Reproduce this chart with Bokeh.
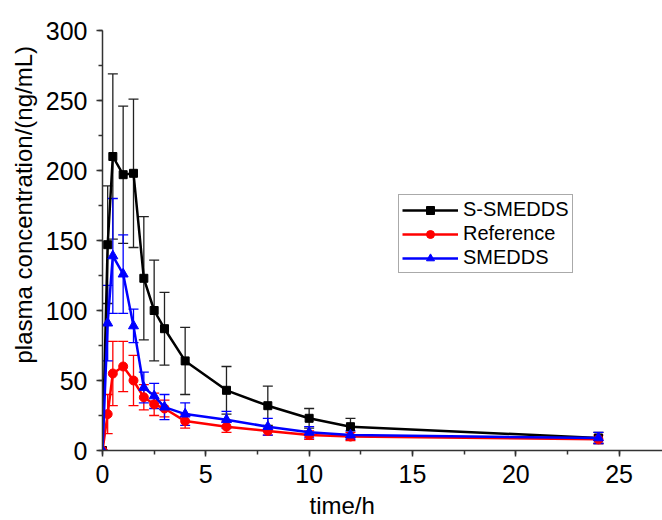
from bokeh.plotting import figure
from bokeh.models import (ColumnDataSource, Whisker, TeeHead, Legend, LegendItem,
                          Range1d, SingleIntervalTicker, Title, Label)
from bokeh.embed import file_html
from bokeh.resources import INLINE

# ---- data ----
time_h = [0, 0.25, 0.5, 1, 1.5, 2, 2.5, 3, 4, 6, 8, 10, 12, 24]
s_smedds = [0, 147, 210, 197, 198, 123, 100, 87, 64, 43, 32, 23, 17, 9]
s_smedds_err = [0, 42, 59, 49, 53, 44, 36, 26, 24, 17, 14, 7, 6, 4]
reference = [0, 26, 55, 60, 50, 38, 33, 30, 21, 17, 14, 11, 10, 8]
reference_err = [0, 14, 23, 18, 18, 9, 8, 6, 5, 4, 3, 3, 3, 3]
smedds = [0, 91, 139, 126, 89, 45, 39, 31, 26, 22, 17, 13, 11, 9]
smedds_err = [0, 27, 41, 28, 12, 11, 9, 9, 8, 6, 6, 4, 3, 4]

series_names = ["S-SMEDDS", "Reference", "SMEDDS"]
series_vals = [s_smedds, reference, smedds]
series_errs = [s_smedds_err, reference_err, smedds_err]
colors = ["#000000", "#ff0000", "#0000ff"]
err_colors = ["#222222", "#ff0000", "#0000ff"]
markers = ["square", "circle", "triangle"]
sizes = [8, 9, 10]

x_title = "time/h"
y_title = "plasma concentration/(ng/mL)"

FONT = "Liberation Sans"

p = figure(width=662, height=520, output_backend="svg", toolbar_location=None,
           x_range=Range1d(0, 27.1), y_range=Range1d(0, 300),
           min_border_left=102, min_border_right=0, min_border_top=30,
           min_border_bottom=70)
p.outline_line_color = None
p.xgrid.visible = False
p.ygrid.visible = False
p.background_fill_color = "white"
p.border_fill_color = "white"

p.xaxis.ticker = SingleIntervalTicker(interval=5, num_minor_ticks=2)
p.yaxis.ticker = SingleIntervalTicker(interval=50, num_minor_ticks=2)

for ax in (p.xaxis, p.yaxis):
    ax.axis_line_color = "#333333"
    ax.axis_line_width = 1.5
    ax.major_tick_line_color = "#333333"
    ax.minor_tick_line_color = "#333333"
    ax.major_tick_line_width = 1.5
    ax.minor_tick_line_width = 1.5
    ax.major_tick_in = 0
    ax.major_tick_out = 6
    ax.minor_tick_in = 0
    ax.minor_tick_out = 4
    ax.major_label_text_font = FONT
    ax.major_label_text_font_size = "25px"
    ax.major_label_text_color = "#000000"

p.xaxis.major_label_standoff = 8
p.yaxis.major_label_standoff = 9

p.add_layout(Label(text=x_title, x=207, y=7, x_units="screen", y_units="screen",
                   text_font=FONT, text_font_size="24px",
                   text_baseline="alphabetic", text_align="left",
                   text_color="#000000"), "below")
p.add_layout(Title(text=y_title, align="left", offset=87, standoff=12,
                   text_font=FONT, text_font_size="24px",
                   text_font_style="normal", text_color="#000000"), "left")

items = []
for name, vals, errs, col, ecol, mk, sz in zip(series_names, series_vals, series_errs,
                                               colors, err_colors, markers, sizes):
    src = ColumnDataSource(dict(
        t=time_h, y=vals,
        lower=[v - e for v, e in zip(vals, errs)],
        upper=[v + e for v, e in zip(vals, errs)]))
    w = Whisker(base="t", lower="lower", upper="upper", source=src,
                line_color=ecol, line_width=1.3,
                upper_head=TeeHead(size=10, line_color=ecol, line_width=1.3),
                lower_head=TeeHead(size=10, line_color=ecol, line_width=1.3))
    p.add_layout(w)
    ln = p.line("t", "y", source=src, line_color=col, line_width=2.5)
    sc = p.scatter("t", "y", source=src, marker=mk, size=sz,
                   fill_color=col, line_color=col)
    items.append(LegendItem(label=name, renderers=[ln, sc]))

legend = Legend(items=items, location=(296, 177),
                label_text_font=FONT, label_text_font_size="20px",
                label_text_color="#000000",
                border_line_color="#555555", border_line_width=1,
                background_fill_color="white", background_fill_alpha=1,
                padding=3, spacing=1, margin=0,
                glyph_width=56, glyph_height=20, label_height=20,
                label_standoff=5)
p.add_layout(legend, "center")

open("out.html", "w").write(file_html(p, INLINE))
